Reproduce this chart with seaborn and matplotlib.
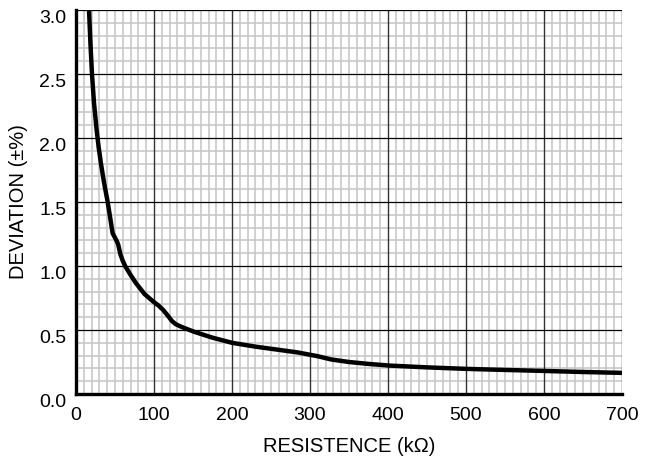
import matplotlib
matplotlib.use("Agg")
import matplotlib.pyplot as plt
from matplotlib.ticker import MultipleLocator
import seaborn as sns
import pandas as pd

# ---------------- data ----------------
resistance = [16.7, 18.5, 20.5, 23, 26.5, 29, 32, 36, 40.6, 44, 47, 51, 54, 57,
              60, 63, 70, 77, 88, 99.5, 106, 112, 118, 123, 128, 135, 151, 175,
              200, 230, 254, 284, 310, 327, 350, 375, 402, 450, 502, 550, 601,
              650, 700]
deviation = [3.0, 2.74, 2.5, 2.28, 2.06, 1.93, 1.80, 1.65, 1.5, 1.37, 1.255,
             1.21, 1.17, 1.09, 1.04, 1.0, 0.93, 0.865, 0.78, 0.72, 0.69, 0.655,
             0.61, 0.57, 0.545, 0.525, 0.487, 0.44, 0.40, 0.37, 0.35, 0.325,
             0.295, 0.27, 0.25, 0.235, 0.222, 0.208, 0.196, 0.188, 0.18, 0.172,
             0.165]

x_major = [0, 100, 200, 300, 400, 500, 600, 700]
y_major = [0.0, 0.5, 1.0, 1.5, 2.0, 2.5, 3.0]

df = pd.DataFrame({"R": resistance, "dev": deviation})

sns.set_style("white")
plt.rcParams['font.family'] = ['Liberation Sans', 'DejaVu Sans']
plt.rcParams['text.color'] = 'black'
plt.rcParams['xtick.color'] = 'black'
plt.rcParams['ytick.color'] = 'black'
plt.rcParams['axes.labelcolor'] = 'black'

fig = plt.figure(figsize=(6.48, 4.61), dpi=100)
ax = fig.add_axes([76 / 648, 67 / 461, 546 / 648, 384 / 461])

# graph-paper grid: light minor lines, dark major lines on top of them
ax.xaxis.set_minor_locator(MultipleLocator(10))
ax.yaxis.set_minor_locator(MultipleLocator(0.1))
ax.grid(which='minor', color='#c4c4c4', linewidth=1.1)
ax.set_axisbelow(True)
for v in x_major[1:]:
    ax.axvline(v, color='#333333', linewidth=1.0, zorder=2)
for v in y_major[1:]:
    ax.axhline(v, color='black', linewidth=0.9, zorder=2)

sns.lineplot(data=df, x="R", y="dev", color='black', linewidth=3.2, ax=ax,
             zorder=5, sort=False)

ax.set_xlim(0, 700)
ax.set_ylim(0, 3.0)
ax.set_xticks(x_major)
ax.set_yticks(y_major)
ax.set_xticklabels([str(v) for v in x_major])
ax.set_yticklabels([f"{v:.1f}" for v in y_major], va='top')
ax.tick_params(which='both', length=0, labelsize=14)
ax.tick_params(axis='x', pad=9)
ax.tick_params(axis='y', pad=7)

for s in ['top', 'right']:
    ax.spines[s].set_visible(False)
for s in ['left', 'bottom']:
    ax.spines[s].set_color('black')
    ax.spines[s].set_linewidth(2.4)
    ax.spines[s].set_zorder(6)

ax.set_xlabel("RESISTENCE (kΩ)", fontsize=14.5, labelpad=10)
ax.set_ylabel("DEVIATION (±%)", fontsize=14.5, labelpad=8)

fig.savefig("out.png", dpi=100)
